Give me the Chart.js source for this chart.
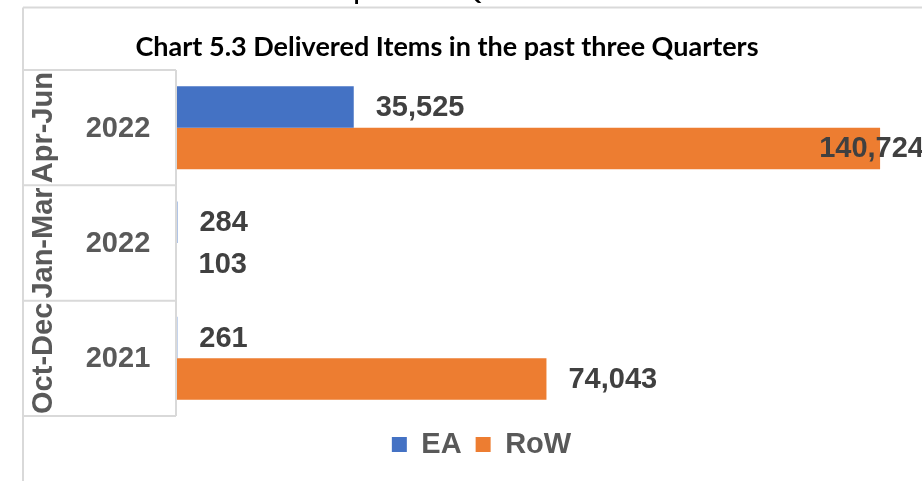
<!DOCTYPE html>
<html>
<head>
<meta charset="utf-8">
<script src="https://cdn.jsdelivr.net/npm/chart.js@4"></script>
<style>
  html, body { margin: 0; padding: 0; background: #fff; }
  #wrap { width: 922px; height: 481px; }
</style>
</head>
<body>
<div id="wrap"><canvas id="chart" width="922" height="481"></canvas></div>
<script>
// data
var quarters = ['Apr-Jun', 'Jan-Mar', 'Oct-Dec'];
var years = ['2022', '2022', '2021'];
var ea = [35525, 284, 261];
var row = [140724, 103, 74043];
var titleText = 'Chart 5.3 Delivered Items in the past three Quarters';

var lineGrey = '#d9d9d9';
var labelFont = 'bold 29px "Liberation Sans"';

// frame, title, cut-off caption and the two-level category table
var categoryBox = {
    id: 'categoryBox',
    beforeDraw: function(chart) {
        var ctx = chart.ctx;
        ctx.save();
        ctx.fillStyle = '#000';
        ctx.textBaseline = 'alphabetic';
        ctx.font = 'bold 23px Lato';
        ctx.fillText(titleText, 23, 0);
        ctx.font = 'bold 27px Lato';
        ctx.textAlign = 'center';
        ctx.textBaseline = 'middle';
        ctx.fillText(titleText, 447, 47);
        ctx.strokeStyle = lineGrey;
        ctx.lineWidth = 2;
        ctx.beginPath();
        ctx.moveTo(23, 7.5); ctx.lineTo(922, 7.5);
        ctx.moveTo(23, 7.5); ctx.lineTo(23, 481);
        ctx.stroke();
        ctx.restore();
    },
    afterDraw: function(chart) {
        var ctx = chart.ctx;
        var area = chart.chartArea;
        var band = (area.bottom - area.top) / quarters.length;
        ctx.save();
        ctx.strokeStyle = lineGrey;
        ctx.lineWidth = 2;
        ctx.beginPath();
        for (var i = 0; i <= quarters.length; i++) {
            var y = area.top + i * band;
            ctx.moveTo(23, y); ctx.lineTo(area.left, y);
        }
        ctx.moveTo(area.left, area.top); ctx.lineTo(area.left, area.bottom);
        ctx.stroke();

        ctx.font = labelFont;
        ctx.fillStyle = '#595959';
        for (var j = 0; j < quarters.length; j++) {
            var cy = chart.scales.y.getPixelForValue(j);
            ctx.textAlign = 'center';
            ctx.textBaseline = 'middle';
            ctx.fillText(years[j], 118, cy + 1);
            ctx.save();
            ctx.translate(52, cy);
            ctx.rotate(-Math.PI / 2);
            ctx.textBaseline = 'alphabetic';
            ctx.fillText(quarters[j], 0, 0);
            ctx.restore();
        }
        ctx.restore();
    }
};

// value labels at the end of each bar
var valueLabels = {
    id: 'valueLabels',
    afterDatasetsDraw: function(chart) {
        var ctx = chart.ctx;
        ctx.save();
        ctx.font = labelFont;
        ctx.fillStyle = '#404040';
        ctx.textBaseline = 'middle';
        chart.data.datasets.forEach(function(ds, di) {
            chart.getDatasetMeta(di).data.forEach(function(bar, i) {
                var txt = ds.data[i].toLocaleString('en-US');
                var w = ctx.measureText(txt).width;
                var x = bar.x + 22;
                if (x + w > chart.width) x = chart.width - w + 2;
                ctx.textAlign = 'left';
                ctx.fillText(txt, x, bar.y + 1);
            });
        });
        ctx.restore();
    }
};

new Chart(document.getElementById('chart'), {
    type: 'bar',
    data: {
        labels: quarters,
        datasets: [
            { label: 'EA', data: ea, backgroundColor: '#4472C4' },
            { label: 'RoW', data: row, backgroundColor: '#ED7D31' }
        ]
    },
    options: {
        indexAxis: 'y',
        responsive: false,
        animation: false,
        events: [],
        layout: { padding: { left: 41, right: 0, top: 70, bottom: 12 } },
        datasets: { bar: { categoryPercentage: 0.72, barPercentage: 1.0 } },
        scales: {
            x: { display: false, min: 0, max: 149100 },
            y: {
                display: true,
                ticks: { display: false },
                grid: { display: false },
                border: { display: false },
                afterFit: function(scale) { scale.width = 135; }
            }
        },
        plugins: {
            title: { display: false },
            legend: {
                position: 'bottom',
                labels: {
                    boxWidth: 15,
                    boxHeight: 15,
                    padding: 14,
                    color: '#595959',
                    font: { family: '"Liberation Sans"', size: 29, weight: 'bold' }
                }
            },
            tooltip: { enabled: false }
        }
    },
    plugins: [categoryBox, valueLabels]
});
</script>
</body>
</html>
